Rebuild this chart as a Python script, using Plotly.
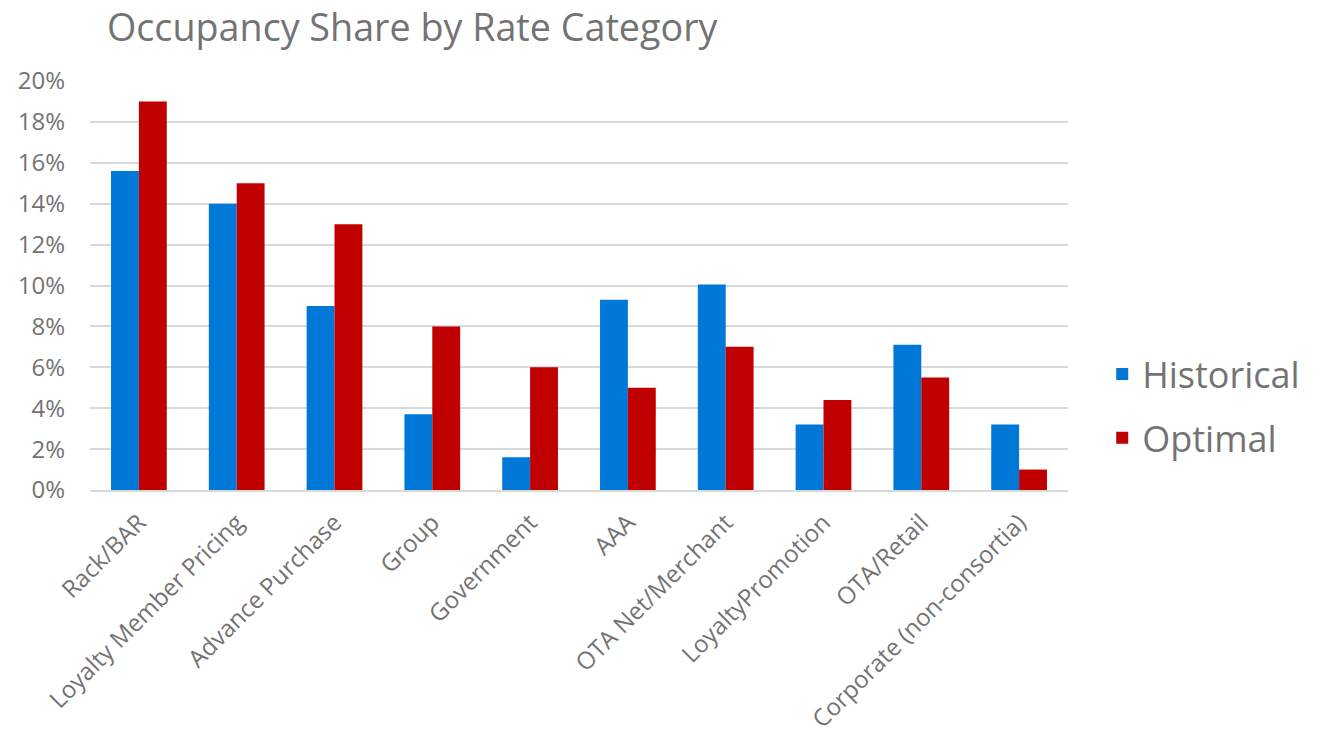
import plotly.graph_objects as go

categories = [
    "Rack/BAR", "Loyalty Member Pricing", "Advance Purchase", "Group",
    "Government", "AAA", "OTA Net/Merchant", "LoyaltyPromotion",
    "OTA/Retail", "Corporate (non-consortia)",
]
historical = [0.156, 0.140, 0.090, 0.037, 0.016, 0.093, 0.1005, 0.032, 0.071, 0.032]
optimal = [0.190, 0.150, 0.130, 0.080, 0.060, 0.050, 0.070, 0.044, 0.055, 0.010]
y_ticks = [0, 0.02, 0.04, 0.06, 0.08, 0.10, 0.12, 0.14, 0.16, 0.18, 0.20]

FONT = "Open Sans, Noto Sans, sans-serif"
GRAY = "#737373"

fig = go.Figure()
fig.add_trace(go.Bar(name="Historical", x=categories, y=historical,
                     legendgroup="h",
                     marker=dict(color="#0078D7", line=dict(width=0))))
fig.add_trace(go.Bar(name="Optimal", x=categories, y=optimal,
                     legendgroup="o",
                     marker=dict(color="#C00000", line=dict(width=0))))

fig.update_layout(
    width=1320, height=743,
    margin=dict(l=90, r=252, t=81, b=253),
    paper_bgcolor="white", plot_bgcolor="white",
    barmode="group", bargap=0.43, bargroupgap=0,
    font=dict(family=FONT, color=GRAY),
    title=dict(text="Occupancy Share by Rate Category",
               x=107 / 1320, xanchor="left", y=1 - 28 / 743, yanchor="middle",
               font=dict(size=37.7, color=GRAY, family=FONT)),
    legend=dict(x=1.035, xanchor="left", y=0.205, yanchor="middle",
                font=dict(size=36, color=GRAY), tracegroupgap=14,
                itemsizing="constant"),
    showlegend=True,
)
fig.update_xaxes(tickangle=-45, tickfont=dict(size=24, color=GRAY),
                 showline=True, linecolor="#d9d9d9", linewidth=2,
                 ticks="", showgrid=False, automargin=False,
                 ticklabelstandoff=7)
fig.update_yaxes(range=[0, 0.2], tickvals=y_ticks, tickformat=".0%",
                 tickfont=dict(size=24, color=GRAY),
                 gridcolor="#d9d9d9", gridwidth=1.5, zeroline=False,
                 ticks="", ticklabelstandoff=24, automargin=False)

fig.write_html("out.html")
